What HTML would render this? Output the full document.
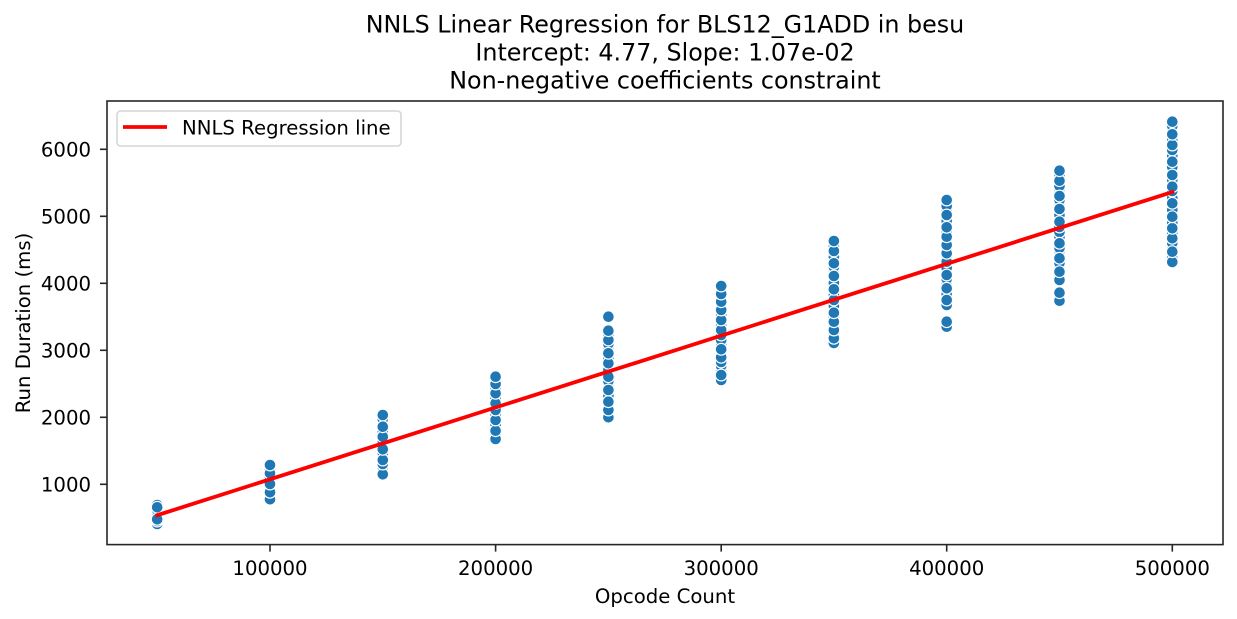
<!DOCTYPE html>
<html>
<head>
<meta charset="utf-8">
<style>
html,body{margin:0;padding:0;background:#fff;}
svg{display:block;}
text{font-family:"DejaVu Sans","Liberation Sans",sans-serif;fill:#000;}
circle{r:5.9px;}
</style>
</head>
<body>
<svg width="1237" height="619" viewBox="0 0 1237 619" xmlns="http://www.w3.org/2000/svg">
<rect x="0" y="0" width="1237" height="619" fill="#fff"/>

<!-- title -->
<text x="665" y="32.3" font-size="23.8" text-anchor="middle">NNLS Linear Regression for BLS12_G1ADD in besu</text>
<text x="665" y="60.3" font-size="23.8" text-anchor="middle">Intercept: 4.77, Slope: 1.07e-02</text>
<text x="665" y="88.3" font-size="23.8" text-anchor="middle">Non-negative coefficients constraint</text>

<!-- points -->
<g fill="#1f77b4" stroke="#fff" stroke-width="1.2">
<!-- 50k -->
<g transform="translate(157.2,0)">
<circle cy="524" r="5.9"/><circle cy="521" r="5.9"/><circle cy="516" r="5.9"/><circle cy="513" r="5.9"/><circle cy="510" r="5.9"/><circle cy="505" r="5.9"/>
<circle cy="519.3" r="5.9"/><circle cy="507.3" r="5.9"/>
</g>
<!-- 100k -->
<g transform="translate(270,0)">
<circle cy="496" r="5.9"/><circle cy="489" r="5.9"/><circle cy="486" r="5.9"/><circle cy="482" r="5.9"/><circle cy="477" r="5.9"/><circle cy="469" r="5.9"/>
<circle cy="499.3" r="5.9"/><circle cy="492.3" r="5.9"/><circle cy="484" r="5.9"/><circle cy="473.3" r="5.9"/><circle cy="465" r="5.9"/>
</g>
<!-- 150k -->
<g transform="translate(382.8,0)">
<circle cy="470" r="5.9"/><circle cy="467" r="5.9"/><circle cy="456" r="5.9"/><circle cy="453" r="5.9"/><circle cy="445" r="5.9"/><circle cy="441" r="5.9"/><circle cy="432" r="5.9"/><circle cy="421" r="5.9"/><circle cy="419" r="5.9"/>
<circle cy="474.3" r="5.9"/><circle cy="464" r="5.9"/><circle cy="460" r="5.9"/><circle cy="449.3" r="5.9"/><circle cy="436.7" r="5.9"/><circle cy="426.7" r="5.9"/><circle cy="415" r="5.9"/>
</g>
<!-- 200k -->
<g transform="translate(495.6,0)">
<circle cy="435" r="5.9"/><circle cy="425" r="5.9"/><circle cy="415" r="5.9"/><circle cy="406" r="5.9"/><circle cy="398" r="5.9"/><circle cy="389" r="5.9"/><circle cy="380" r="5.9"/>
<circle cy="439" r="5.9"/><circle cy="430.7" r="5.9"/><circle cy="420" r="5.9"/><circle cy="410" r="5.9"/><circle cy="403.3" r="5.9"/><circle cy="393.3" r="5.9"/><circle cy="384" r="5.9"/><circle cy="376.7" r="5.9"/>
</g>
<!-- 250k -->
<g transform="translate(608.4,0)">
<circle cy="414" r="5.9"/><circle cy="406" r="5.9"/><circle cy="396" r="5.9"/><circle cy="384" r="5.9"/><circle cy="381" r="5.9"/><circle cy="370" r="5.9"/><circle cy="358" r="5.9"/><circle cy="347" r="5.9"/><circle cy="344" r="5.9"/><circle cy="335" r="5.9"/>
<circle cy="417.3" r="5.9"/><circle cy="410" r="5.9"/><circle cy="401.7" r="5.9"/><circle cy="390" r="5.9"/><circle cy="376.7" r="5.9"/><circle cy="363.3" r="5.9"/><circle cy="353.3" r="5.9"/><circle cy="340" r="5.9"/><circle cy="330.7" r="5.9"/><circle cy="316.7" r="5.9"/>
</g>
<!-- 300k -->
<g transform="translate(721.2,0)">
<circle cy="377" r="5.9"/><circle cy="370" r="5.9"/><circle cy="366" r="5.9"/><circle cy="362" r="5.9"/><circle cy="353" r="5.9"/><circle cy="345" r="5.9"/><circle cy="340" r="5.9"/><circle cy="335" r="5.9"/><circle cy="325" r="5.9"/><circle cy="315" r="5.9"/><circle cy="306" r="5.9"/><circle cy="298" r="5.9"/><circle cy="290" r="5.9"/>
<circle cy="380" r="5.9"/><circle cy="375" r="5.9"/><circle cy="357.3" r="5.9"/><circle cy="349.3" r="5.9"/><circle cy="330" r="5.9"/><circle cy="320" r="5.9"/><circle cy="310" r="5.9"/><circle cy="301.7" r="5.9"/><circle cy="294" r="5.9"/><circle cy="286" r="5.9"/>
</g>
<!-- 350k -->
<g transform="translate(833.9,0)">
<circle cy="341" r="5.9"/><circle cy="334" r="5.9"/><circle cy="326" r="5.9"/><circle cy="317" r="5.9"/><circle cy="306" r="5.9"/><circle cy="295" r="5.9"/><circle cy="283" r="5.9"/><circle cy="270" r="5.9"/><circle cy="267" r="5.9"/><circle cy="257" r="5.9"/><circle cy="246" r="5.9"/>
<circle cy="343" r="5.9"/><circle cy="338.3" r="5.9"/><circle cy="330" r="5.9"/><circle cy="321.7" r="5.9"/><circle cy="312.7" r="5.9"/><circle cy="300" r="5.9"/><circle cy="289.3" r="5.9"/><circle cy="276" r="5.9"/><circle cy="263.3" r="5.9"/><circle cy="251" r="5.9"/><circle cy="241" r="5.9"/>
</g>
<!-- 400k -->
<g transform="translate(946.7,0)">
<circle cy="305" r="5.9"/><circle cy="294" r="5.9"/><circle cy="282" r="5.9"/><circle cy="279" r="5.9"/><circle cy="268" r="5.9"/><circle cy="257" r="5.9"/><circle cy="249" r="5.9"/><circle cy="241" r="5.9"/><circle cy="232" r="5.9"/><circle cy="221" r="5.9"/><circle cy="210" r="5.9"/><circle cy="206" r="5.9"/>
<circle cy="326.7" r="5.9"/><circle cy="321.7" r="5.9"/><circle cy="300" r="5.9"/><circle cy="288.3" r="5.9"/><circle cy="275" r="5.9"/><circle cy="261.7" r="5.9"/><circle cy="253.3" r="5.9"/><circle cy="245" r="5.9"/><circle cy="236.7" r="5.9"/><circle cy="227.3" r="5.9"/><circle cy="215" r="5.9"/><circle cy="200" r="5.9"/>
</g>
<!-- 450k -->
<g transform="translate(1059.5,0)">
<circle cy="276" r="5.9"/><circle cy="266" r="5.9"/><circle cy="263" r="5.9"/><circle cy="251" r="5.9"/><circle cy="248" r="5.9"/><circle cy="237" r="5.9"/><circle cy="232" r="5.9"/><circle cy="227" r="5.9"/><circle cy="215" r="5.9"/><circle cy="203" r="5.9"/><circle cy="200" r="5.9"/><circle cy="189" r="5.9"/><circle cy="186" r="5.9"/><circle cy="175" r="5.9"/>
<circle cy="300.7" r="5.9"/><circle cy="292.7" r="5.9"/><circle cy="280" r="5.9"/><circle cy="271.7" r="5.9"/><circle cy="258.3" r="5.9"/><circle cy="243.3" r="5.9"/><circle cy="221.7" r="5.9"/><circle cy="209" r="5.9"/><circle cy="196" r="5.9"/><circle cy="180.7" r="5.9"/><circle cy="170.7" r="5.9"/>
</g>
<!-- 500k -->
<g transform="translate(1172.3,0)">
<circle cy="258" r="5.9"/><circle cy="246" r="5.9"/><circle cy="243" r="5.9"/><circle cy="233" r="5.9"/><circle cy="223" r="5.9"/><circle cy="210" r="5.9"/><circle cy="198" r="5.9"/><circle cy="191" r="5.9"/><circle cy="180" r="5.9"/><circle cy="167" r="5.9"/><circle cy="156" r="5.9"/><circle cy="150" r="5.9"/><circle cy="140" r="5.9"/><circle cy="129" r="5.9"/><circle cy="126" r="5.9"/>
<circle cy="262" r="5.9"/><circle cy="251.7" r="5.9"/><circle cy="238.3" r="5.9"/><circle cy="228.3" r="5.9"/><circle cy="216.7" r="5.9"/><circle cy="203.3" r="5.9"/><circle cy="186.7" r="5.9"/><circle cy="175" r="5.9"/><circle cy="161.7" r="5.9"/><circle cy="145" r="5.9"/><circle cy="134.3" r="5.9"/><circle cy="121.7" r="5.9"/>
</g>
</g>

<!-- regression line -->
<line x1="157.2" y1="515.2" x2="1172.3" y2="192" stroke="#ff0000" stroke-width="3.8" stroke-linecap="square"/>

<!-- axes frame -->
<rect x="107" y="101" width="1116" height="443.6" fill="none" stroke="#262626" stroke-width="1.6"/>

<!-- y ticks -->
<g stroke="#262626" stroke-width="1.6">
<line x1="100" y1="484.3" x2="107" y2="484.3"/>
<line x1="100" y1="417.3" x2="107" y2="417.3"/>
<line x1="100" y1="350.3" x2="107" y2="350.3"/>
<line x1="100" y1="283.3" x2="107" y2="283.3"/>
<line x1="100" y1="216.3" x2="107" y2="216.3"/>
<line x1="100" y1="149.3" x2="107" y2="149.3"/>
</g>
<g font-size="19.7" text-anchor="end">
<text x="91" y="491.5">1000</text>
<text x="91" y="424.5">2000</text>
<text x="91" y="357.5">3000</text>
<text x="91" y="290.5">4000</text>
<text x="91" y="223.5">5000</text>
<text x="91" y="156.5">6000</text>
</g>

<!-- x ticks -->
<g stroke="#262626" stroke-width="1.6">
<line x1="270" y1="544.6" x2="270" y2="551.6"/>
<line x1="495.6" y1="544.6" x2="495.6" y2="551.6"/>
<line x1="721.2" y1="544.6" x2="721.2" y2="551.6"/>
<line x1="946.7" y1="544.6" x2="946.7" y2="551.6"/>
<line x1="1172.3" y1="544.6" x2="1172.3" y2="551.6"/>
</g>
<g font-size="19.7" text-anchor="middle">
<text x="270" y="575">100000</text>
<text x="495.6" y="575">200000</text>
<text x="721.2" y="575">300000</text>
<text x="946.7" y="575">400000</text>
<text x="1172.3" y="575">500000</text>
</g>

<!-- axis labels -->
<text x="665" y="603" font-size="19.7" text-anchor="middle">Opcode Count</text>
<text transform="translate(30,323) rotate(-90)" font-size="19.7" text-anchor="middle">Run Duration (ms)</text>

<!-- legend -->
<rect x="117" y="111" width="284" height="35" rx="3.5" fill="#fff" fill-opacity="0.8" stroke="#d6d6d6" stroke-width="1.6"/>
<line x1="123" y1="127" x2="167" y2="127" stroke="#ff0000" stroke-width="3.8"/>
<text x="182" y="134.5" font-size="19.7">NNLS Regression line</text>
</svg>
</body>
</html>
